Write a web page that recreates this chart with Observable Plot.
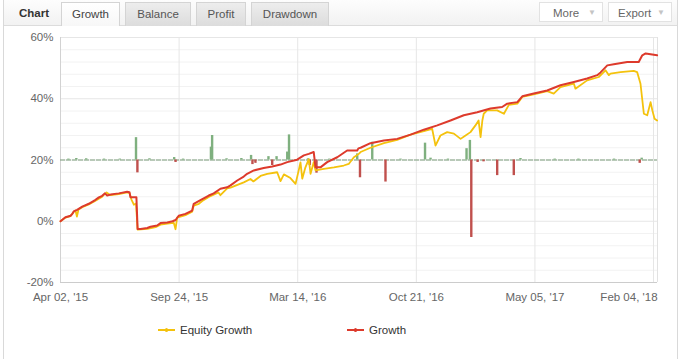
<!DOCTYPE html>
<html><head><meta charset="utf-8">
<script src="https://cdn.jsdelivr.net/npm/d3@7"></script>
<script src="https://cdn.jsdelivr.net/npm/@observablehq/plot@0.6"></script>
<style>
body{margin:0;width:680px;height:359px;overflow:hidden;background:#fff;font-family:"Liberation Sans",Arial,sans-serif;position:relative}
#frame{position:absolute;left:3px;top:0;width:675px;height:359px;border-left:1px solid #d9d9d9;border-right:1px solid #d9d9d9;box-sizing:border-box}
#bar{position:absolute;left:4px;top:0;width:673px;height:26px;background:linear-gradient(#fdfdfd,#f2f2f2);border-bottom:1px solid #dcdcdc;box-sizing:border-box}
.lbl{position:absolute;left:15px;top:0;height:26px;line-height:26px;font-size:11.5px;font-weight:bold;color:#333}
.t{position:absolute;top:2px;height:24px;line-height:23px;text-align:center;font-size:11.5px;color:#555;background:linear-gradient(#ededed,#dcdcdc);border:1px solid #d4d4d4;border-bottom:none;box-sizing:border-box}
.t.on{background:linear-gradient(#ffffff,#f7f7f7);color:#444}
.b{position:absolute;top:2px;height:20px;line-height:20px;font-size:11.5px;color:#666;background:#fff;border:1px solid #e2e2e2;box-sizing:border-box;padding-left:0}
.b span{color:#c4c4c4;font-size:8px;position:absolute;right:6px;top:0}
#plot{position:absolute;left:0;top:26px}
#legend{position:absolute;top:322px;left:0;width:680px;height:16px;font-size:11.5px;color:#333}
.li{position:absolute;top:0;height:16px;line-height:16px}
.sym{position:absolute;top:7px;width:17px;height:1.5px}
.sym i{position:absolute;left:7px;top:-1px;width:3px;height:3.5px;border-radius:2px}
</style></head>
<body>
<div id="frame"></div>
<div id="bar">
  <div class="lbl">Chart</div>
  <div class="t on" style="left:57px;width:59px">Growth</div>
  <div class="t" style="left:121px;width:66px">Balance</div>
  <div class="t" style="left:192px;width:50px">Profit</div>
  <div class="t" style="left:247px;width:78px">Drawdown</div>
  <div class="b" style="left:535px;width:64px;padding-left:13px">More<span>▼</span></div>
  <div class="b" style="left:604px;width:64px;padding-left:9px">Export<span>▼</span></div>
</div>
<div id="plot"></div>
<div id="legend">
  <div class="li" style="left:158px"><div class="sym" style="background:#f4c20d"><i style="background:#f4c20d"></i></div><span style="position:absolute;left:22px;white-space:nowrap">Equity Growth</span></div>
  <div class="li" style="left:347px"><div class="sym" style="background:#dd3a2c"><i style="background:#dd3a2c"></i></div><span style="position:absolute;left:22px;white-space:nowrap">Growth</span></div>
</div>
<script>
// x axis is trade sequence (index), labelled with dates
const tickIdx = [0, 60, 120, 180, 240, 300];
const tickLabels = ["Apr 02, '15", "Sep 24, '15", "Mar 14, '16", "Oct 21, '16", "May 05, '17", "Feb 04, '18"];
const yTicks = [-20, 0, 20, 40, 60];

const growthIdx = [0,2.5,5.1,6.1,6.7,8.4,11,14.3,17.7,19.4,21.1,22.4,23.6,25.3,29.5,33.7,34.9,35.4,38.4,39,40.5,43.9,45.5,48.9,50.6,54,56.7,58.2,59.8,63.2,66.6,67.4,70.8,75,77.5,80.9,84.3,86,89.4,92.7,94.4,97.8,102.8,107.1,111.3,114.7,119.7,123.1,125.6,128.1,129,131.5,134.9,140,145,150.1,150.7,151.8,156.8,163.6,170.3,177.1,183.8,190.6,197.3,204,210.8,217.5,223.4,226,231.1,233.6,239.4,246.2,252.9,259.7,266.4,271.5,273.2,276.6,279.9,286.7,292.5,294.3,296,301.8];
const growthPct = [0,1.3,1.8,2.5,3.2,3.7,4.8,5.7,7.0,7.8,8.3,9.1,8.4,8.7,9.1,9.6,9.5,7.8,7.8,-2.5,-2.5,-2.2,-1.8,-1.4,-0.6,-0.4,0.0,0.4,1.8,2.4,3.5,5.7,6.9,8.4,9.1,10.6,11.1,11.7,13.3,14.6,15.5,16.6,17.4,17.9,18.5,19.3,20.1,21.5,22.0,22.6,17.6,17.6,19.3,20.9,23.1,23.1,23.8,24.0,25.5,26.4,26.9,28.3,29.9,31.3,32.9,34.6,35.6,36.8,37.3,38.4,38.9,40.8,41.7,42.7,44.4,45.5,46.6,47.7,48.6,50.9,51.3,52.0,52.0,54.2,54.8,54.2];

const equityIdx = [0,2.5,5.1,6.7,7.6,8.3,9.1,11,14.3,17.7,21.1,22.4,23.3,25.3,29.5,33.7,34.9,35.9,37.1,38.2,39,43.9,48.1,50.6,54,57.3,58.2,59,63.2,66.6,67.4,70,71.7,75,77.5,79.9,80.9,84.3,86,91.1,92.7,96.1,97.6,101.2,104.6,109.6,111.3,113,116.3,118.9,120.5,121.4,122.3,123.9,125.6,126.5,128.1,129,133.2,138.3,143.3,145.8,148.4,150.9,151.8,156.8,163.6,170.3,177.1,183.8,188,189.7,192.2,195.6,199,202.4,204.9,207.4,209.9,211.5,212.5,213.4,214.1,215.8,220.9,224.3,226.8,231.1,233.6,239.4,246.2,249.5,252.9,259.7,260.5,266.4,272.3,275.7,277.4,278.2,283.3,290,291.7,293.4,295.1,296.8,298.5,299.4,300.5,301.8];
const equityPct = [0,1.2,1.7,3.1,3.5,1.5,3.8,4.6,5.5,6.7,8.0,8.9,9.4,8.5,8.9,9.4,9.2,7.1,5.4,5.8,-2.7,-2.5,-1.9,-1.1,-0.8,-0.5,-2.6,1.2,2.0,3.1,5.1,5.7,6.6,7.9,8.7,9.4,8.5,10.7,11.0,12.3,12.7,13.8,13.0,14.8,15.5,16.0,13.1,15.3,14.1,12.2,16.6,19.2,13.9,17.6,20.3,15.5,19.3,16.6,17.1,17.6,18.2,18.7,20.9,22.0,22.6,24.0,25.5,26.6,28.3,29.4,30.2,24.7,28.0,29.1,28.6,26.9,28.0,29.1,31.3,32.9,27.5,32.9,35.1,36.2,36.2,35.1,38.0,38.4,40.6,41.4,42.5,41.7,43.8,44.9,43.3,46.0,47.1,49.3,47.7,48.2,48.7,49.1,48.7,44.9,35.1,34.6,38.9,36.2,33.5,32.9];

// result bars drawn around the 20% level
const barBase = 20;
const barIdx = [4,8,13,22,30,38.2,38.9,45,57.5,58.2,62,76.1,76.7,84,91.5,96.4,97.1,98.6,105.2,107.1,109.3,114.7,115.6,125.2,126.1,129.5,136,150.1,151.5,157.7,164.4,172,184.4,187.2,196,205.4,207.1,207.8,211,214,220.9,229.3,232.7,250,262,280,293,294];
const barPct = [0.3,0.5,0.4,0.3,0.3,7.3,-4.2,0.4,0.8,-0.8,0.3,4.2,8.0,0.4,0.5,1.5,-1.5,-1.1,1.1,-1.8,1.1,2.6,8.2,0.4,-1.8,-4.3,0.3,2.0,-5.8,5.8,-7.2,0.3,5.5,0.6,0.3,3.7,6.4,-25.3,-0.8,-0.6,-5.1,-5.1,0.5,0.3,0.3,0.3,-1.1,0.6];

const growth = growthIdx.map((x, i) => ({x, y: growthPct[i]}));
const equity = equityIdx.map((x, i) => ({x, y: equityPct[i]}));
const bars = barIdx.map((x, i) => ({x, v: barPct[i]}));
const minorY = d3.range(-20, 61, 4).filter(d => d % 20 !== 0);
const lastTick = tickIdx[tickIdx.length - 1];
const label = d => tickLabels[tickIdx.indexOf(d)];

const chart = Plot.plot({
  width: 680, height: 290,
  marginLeft: 60, marginRight: 23, marginTop: 11, marginBottom: 34,
  style: {fontFamily: '"Liberation Sans", Arial, sans-serif', fontSize: "11.5px", background: "transparent"},
  x: {domain: [0, 302]},
  y: {domain: [-20, 60]},
  marks: [
    Plot.ruleY(minorY, {stroke: "#f2f2f2"}),
    Plot.ruleY(yTicks, {stroke: "#e6e6e6"}),
    Plot.ruleX(tickIdx, {stroke: "#e6e6e6"}),
    Plot.ruleX([302], {stroke: "#e2e2e2"}),
    Plot.ruleX([0], {stroke: "#d2d2d2"}),
    Plot.ruleY([-20], {stroke: "#cccccc"}),
    Plot.ruleY([barBase], {stroke: "#7f9f7f", strokeWidth: 1.2, strokeDasharray: "5,1"}),
    Plot.ruleX(bars, {x: "x", y1: () => barBase, y2: d => barBase + d.v, stroke: d => d.v >= 0 ? "#7fb07f" : "#c0504d", strokeWidth: 2.4}),
    Plot.line(equity, {x: "x", y: "y", stroke: "#f4c20d", strokeWidth: 1.8}),
    Plot.line(growth, {x: "x", y: "y", stroke: "#dd3a2c", strokeWidth: 2}),
    Plot.axisX({ticks: tickIdx.slice(0, -1), tickFormat: label, tickSize: 0, tickPadding: 10, fill: "#666", label: null}),
    Plot.axisX({ticks: [lastTick], tickFormat: label, tickSize: 0, tickPadding: 10, fill: "#666", label: null, textAnchor: "end", dx: 4}),
    Plot.axisY({ticks: yTicks, tickFormat: d => d + "%", tickSize: 0, tickPadding: 7, fill: "#666", label: null})
  ]
});
document.getElementById("plot").appendChild(chart);
</script>
</body></html>
